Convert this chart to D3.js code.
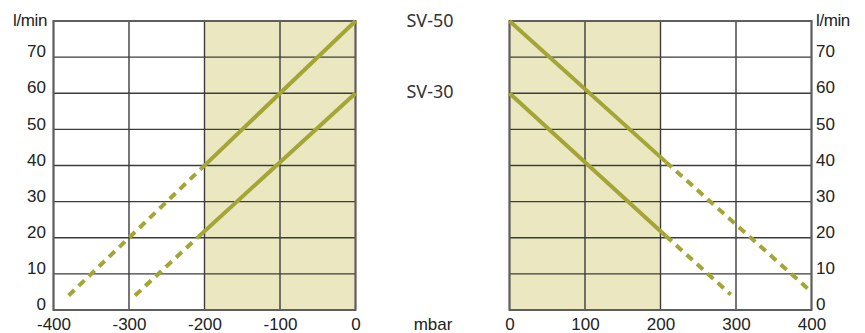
<!DOCTYPE html>
<html>
<head>
<meta charset="utf-8">
<script src="https://d3js.org/d3.v7.min.js"></script>
<style>
  body { margin: 0; background: #fff; }
  svg { display: block; }
  .tick text { font-family: "Liberation Sans", Arial, sans-serif; font-size: 17px; fill: #222; }
</style>
</head>
<body>
<div id="chartDiv"></div>
<script>
// ---- data ----
var pressureLeft = [-400, -300, -200, -100, 0];     // mbar, vacuum side
var pressureRight = [0, 100, 200, 300, 400];        // mbar, pressure side
var flowTicks = [0, 10, 20, 30, 40, 50, 60, 70];    // l/min
var shadedLeft = [-200, 0];
var shadedRight = [0, 200];

// series: [pressure, flow]
var sv50LeftSolid  = [[-205, 39], [0, 80]];
var sv50LeftDash   = [[-380, 4], [-205, 39]];
var sv30LeftSolid  = [[-208, 20.3], [0, 60]];
var sv30LeftDash   = [[-292, 4], [-208, 20.3]];

var sv50RightSolid = [[0, 80], [207, 41]];
var sv50RightDash  = [[207, 41], [400, 5]];
var sv30RightSolid = [[0, 60], [207, 20.5]];
var sv30RightDash  = [[207, 20.5], [293, 4.3]];

var seriesNames = ["SV-50", "SV-30"];

// ---- layout ----
var W = 865, H = 333;
var plotTop = 21, plotBottom = 310;
var lineColor = "#a3a635";
var fillColor = "#ebe8c1";
var gridColor = "#3c3c3c";

var svg = d3.select("#chartDiv").append("svg")
  .attr("width", W).attr("height", H);

var y = d3.scaleLinear().domain([0, 80]).range([plotBottom, plotTop]);
var xL = d3.scaleLinear().domain([-400, 0]).range([53.5, 355.5]);
var xR = d3.scaleLinear().domain([0, 400]).range([509.5, 811.5]);

function panel(x, xticks, shade, solids, dashes, side) {
  var g = svg.append("g");
  var x0 = x.range()[0], x1 = x.range()[1];

  // shaded working range
  g.append("rect")
    .attr("x", x(shade[0])).attr("y", plotTop)
    .attr("width", x(shade[1]) - x(shade[0]))
    .attr("height", plotBottom - plotTop)
    .attr("fill", fillColor);

  // horizontal grid
  g.selectAll(".hgrid").data(flowTicks.concat([80]))
    .enter().append("line")
    .attr("x1", x0).attr("x2", x1)
    .attr("y1", function(d) { return y(d); })
    .attr("y2", function(d) { return y(d); })
    .attr("stroke", gridColor).attr("stroke-width", 1.4);

  // vertical grid
  g.selectAll(".vgrid").data(xticks)
    .enter().append("line")
    .attr("x1", function(d) { return x(d); })
    .attr("x2", function(d) { return x(d); })
    .attr("y1", plotTop).attr("y2", plotBottom)
    .attr("stroke", gridColor).attr("stroke-width", 1.4);

  // frame
  g.append("rect")
    .attr("x", x0).attr("y", plotTop)
    .attr("width", x1 - x0).attr("height", plotBottom - plotTop)
    .attr("fill", "none").attr("stroke", "#5e5e5e").attr("stroke-width", 2);

  var line = d3.line()
    .x(function(d) { return x(d[0]); })
    .y(function(d) { return y(d[1]); });

  solids.forEach(function(s) {
    g.append("path").attr("d", line(s))
      .attr("fill", "none").attr("stroke", lineColor).attr("stroke-width", 4);
  });
  dashes.forEach(function(s) {
    g.append("path").attr("d", line(s))
      .attr("fill", "none").attr("stroke", lineColor).attr("stroke-width", 4)
      .attr("stroke-dasharray", "8,6");
  });

  // x axis labels
  var xAxis = d3.axisBottom(x).tickValues(xticks).tickSize(0).tickPadding(0)
    .tickFormat(function(d) { return String(d); });
  var ax = g.append("g")
    .attr("transform", "translate(0," + plotBottom + ")")
    .call(xAxis);
  ax.select(".domain").remove();
  ax.selectAll("text").attr("dy", null).attr("y", 20);

  // y axis labels
  var yAxis = (side == "left" ? d3.axisLeft(y) : d3.axisRight(y))
    .tickValues(flowTicks).tickSize(0).tickPadding(0);
  var ay = g.append("g")
    .attr("transform", "translate(" + (side == "left" ? 46 : 816) + ",0)")
    .call(yAxis);
  ay.select(".domain").remove();
  ay.selectAll("text").attr("dy", "-0.02em").attr("x", 0);

  // unit label
  svg.append("text")
    .attr("x", side == "left" ? 47 : 816)
    .attr("y", 25.5)
    .attr("text-anchor", side == "left" ? "end" : "start")
    .style("font-family", "Liberation Sans, Arial, sans-serif")
    .style("font-size", "17px")
    .style("letter-spacing", "-0.4px")
    .style("fill", "#222")
    .text("l/min");
}

panel(xL, pressureLeft, shadedLeft,
  [sv50LeftSolid, sv30LeftSolid], [sv50LeftDash, sv30LeftDash], "left");
panel(xR, pressureRight, shadedRight,
  [sv50RightSolid, sv30RightSolid], [sv50RightDash, sv30RightDash], "right");

// series names in the middle
svg.selectAll(".sname").data(seriesNames)
  .enter().append("text")
  .attr("x", 430)
  .attr("y", function(d) { return d == "SV-50" ? y(80) + 5.5 : y(60) + 5; })
  .attr("text-anchor", "middle")
  .style("font-family", "Noto Sans, sans-serif")
  .style("font-size", "18px")
  .style("fill", "#333")
  .text(function(d) { return d; });

// unit for x
svg.append("text")
  .attr("x", 433).attr("y", 330)
  .attr("text-anchor", "middle")
  .style("font-family", "Liberation Sans, Arial, sans-serif")
  .style("font-size", "17px")
  .style("fill", "#222")
  .text("mbar");
</script>
</body>
</html>
